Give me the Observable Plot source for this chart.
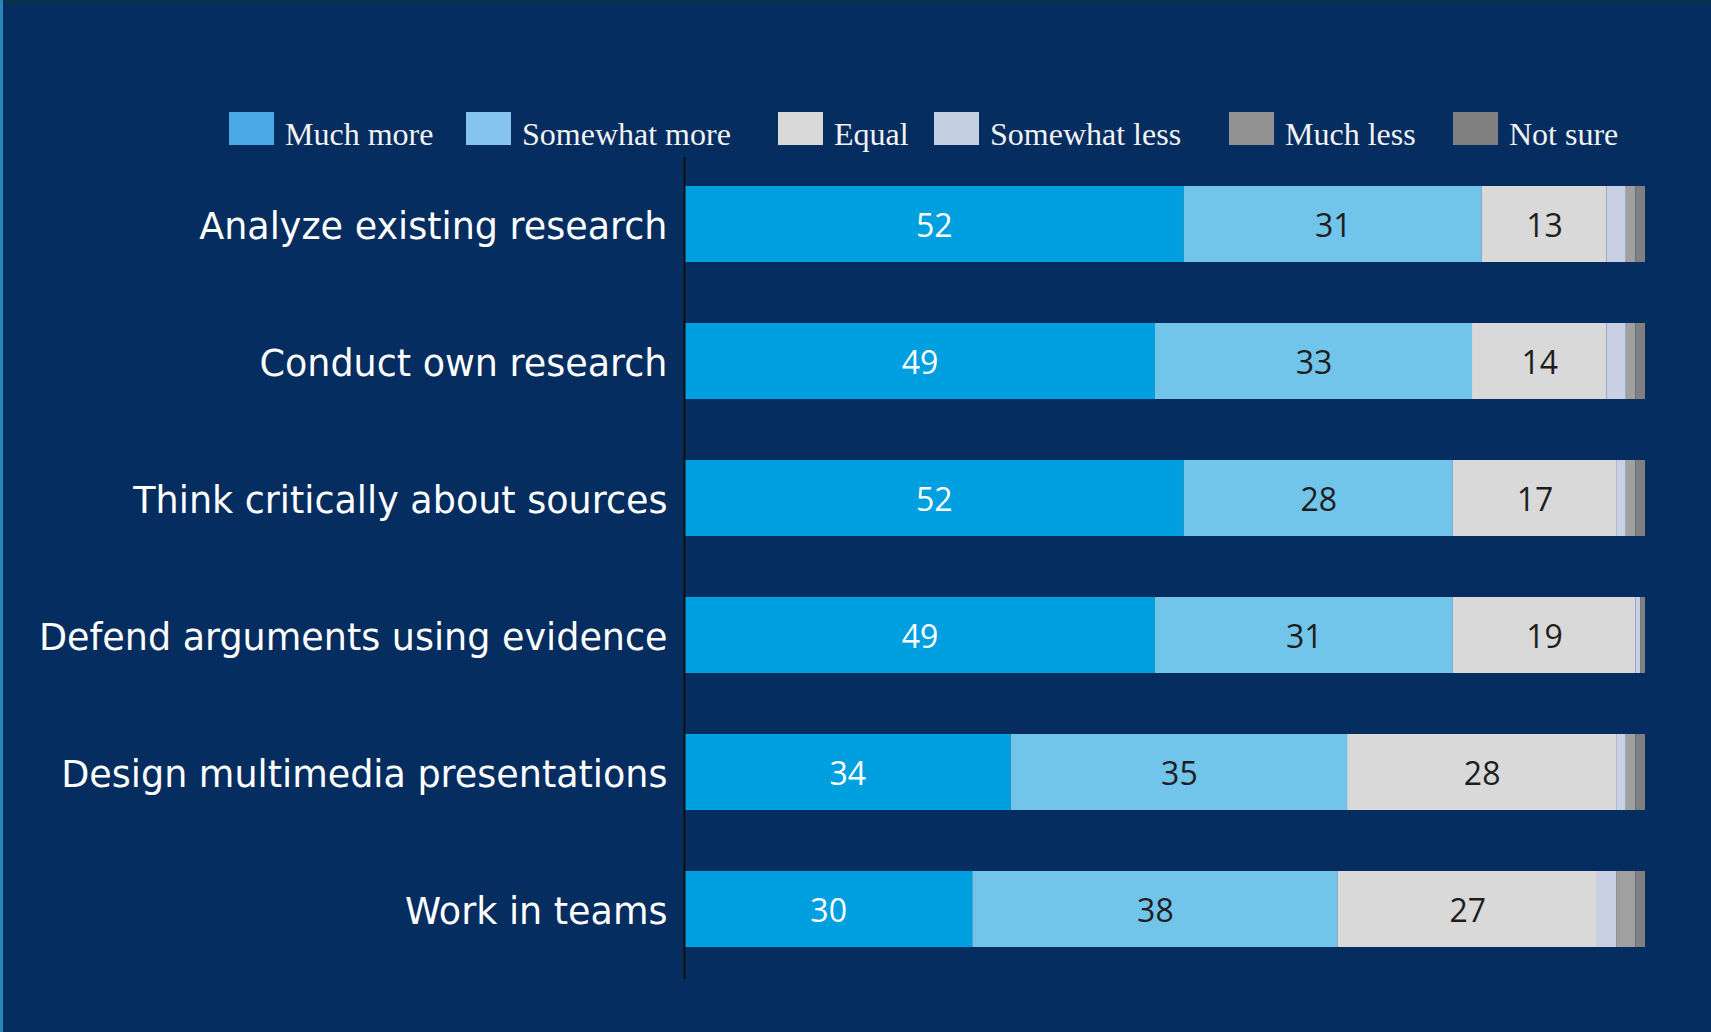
<!DOCTYPE html>
<html>
<head>
<meta charset="utf-8">
<script src="https://cdn.jsdelivr.net/npm/d3@7"></script>
<script src="https://cdn.jsdelivr.net/npm/@observablehq/plot@0.6"></script>
<style>
  html, body { margin: 0; padding: 0; background: #052d5f; }
  #wrap { position: relative; width: 1711px; height: 1032px; background: #052d5f; overflow: hidden;
          box-shadow: inset 3px 0 0 #2a86b8, inset 0 3px 0 #0b3346; }
  #legend { position: absolute; left: 0; top: 0; width: 1711px; height: 160px; }
  .sw { position: absolute; top: 112px; width: 45px; height: 33px; }
  .lt { position: absolute; font-family: "Liberation Serif", "DejaVu Serif", serif; font-size: 32px; color: #f2f2f2; line-height: 40px; white-space: nowrap; }
  #chart { position: absolute; left: 0; top: 160px; }
</style>
</head>
<body>
<div id="wrap">
  <div id="legend"></div>
  <div id="chart"></div>
</div>
<script>
const tasks = [
  "Analyze existing research",
  "Conduct own research",
  "Think critically about sources",
  "Defend arguments using evidence",
  "Design multimedia presentations",
  "Work in teams"
];
const categories = ["Much more", "Somewhat more", "Equal", "Somewhat less", "Much less", "Not sure"];
const muchMore     = [52, 49, 52, 49, 34, 30];
const somewhatMore = [31, 33, 28, 31, 35, 38];
const equal        = [13, 14, 17, 19, 28, 27];
const somewhatLess = [2, 2, 1, 0.5, 1, 2];
const muchLess     = [1, 1, 1, 0, 1, 2];
const notSure      = [1, 1, 1, 0.5, 1, 1];

const barColors    = ["#009fdf", "#71c5ea", "#d9d9d9", "#c7d1e3", "#a0a0a0", "#808080"];
const legendColors = ["#4aa8e6", "#86c4f0", "#d9d9d9", "#c5cfe2", "#929292", "#808080"];
const textColors   = ["#ffffff", "#1e1e1e", "#1e1e1e", "#1e1e1e", "#1e1e1e", "#1e1e1e"];

const series = [muchMore, somewhatMore, equal, somewhatLess, muchLess, notSure];
const data = [];
tasks.forEach((t, i) => {
  categories.forEach((c, j) => {
    data.push({task: t, cat: c, value: series[j][i], color: barColors[j], tcolor: textColors[j], labeled: j < 3});
  });
});

// legend
const legendX = [229, 466, 778, 934, 1229, 1453];
const legend = document.getElementById("legend");
categories.forEach((c, j) => {
  const sw = document.createElement("div");
  sw.className = "sw";
  sw.style.left = legendX[j] + "px";
  sw.style.background = legendColors[j];
  legend.appendChild(sw);
  const lt = document.createElement("div");
  lt.className = "lt";
  lt.style.left = (legendX[j] + 56) + "px";
  lt.style.top = "114px";
  lt.textContent = c;
  legend.appendChild(lt);
});

const chart = Plot.plot({
  width: 1711,
  height: 872,
  marginLeft: 684,
  marginRight: 66,
  marginTop: 26,
  marginBottom: 84,
  style: {background: "transparent", overflow: "visible"},
  x: {domain: [0, 100], axis: null},
  y: {domain: tasks, paddingInner: 0.444, paddingOuter: 0, label: null, tickSize: 0, tickPadding: 17},
  color: {type: "identity"},
  marks: [
    Plot.barX(data, Plot.stackX({x: "value", y: "task", z: "cat", fill: "color", order: null})),
    Plot.text(data, Plot.stackX({
      x: "value", y: "task", z: "cat", order: null,
      text: d => d.labeled ? String(d.value) : "",
      fill: "tcolor",
      fontSize: 32,
      dy: 2,
      fontFamily: "Open Sans, Liberation Sans, sans-serif"
    })),
    Plot.ruleX([0], {stroke: "#111111", strokeWidth: 2, insetTop: -29, insetBottom: -31}),
    Plot.axisY({
      tickSize: 0, tickPadding: 17, fontSize: 36.5, fill: "#ffffff", dy: 3,
      fontFamily: "DejaVu Sans, sans-serif", label: null
    })
  ]
});
document.getElementById("chart").appendChild(chart);
</script>
</body>
</html>
